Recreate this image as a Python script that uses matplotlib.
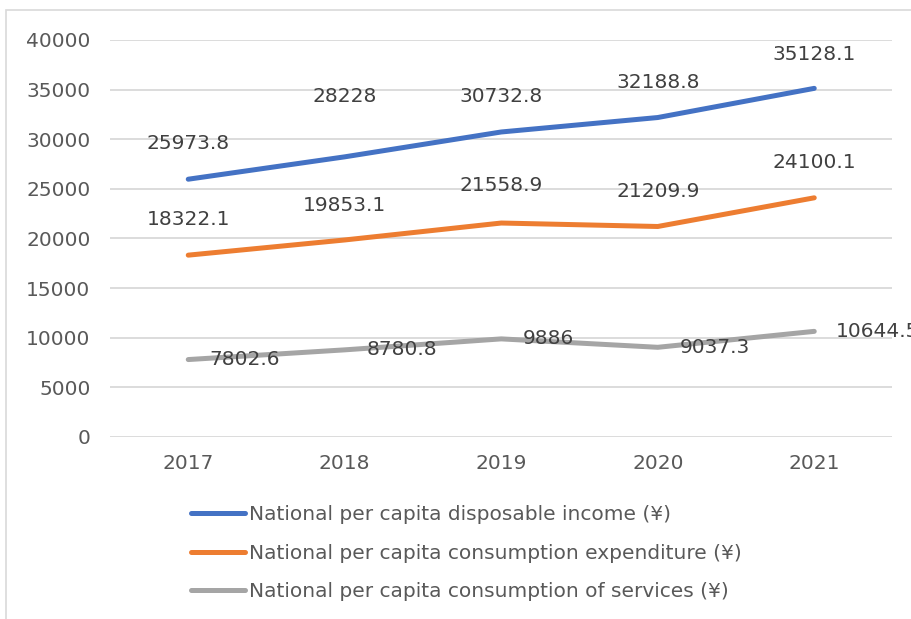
import matplotlib
matplotlib.use("Agg")
import matplotlib.pyplot as plt
from matplotlib.patches import Rectangle

years = ["2017", "2018", "2019", "2020", "2021"]
income = [25973.8, 28228, 30732.8, 32188.8, 35128.1]
expenditure = [18322.1, 19853.1, 21558.9, 21209.9, 24100.1]
services = [7802.6, 8780.8, 9886, 9037.3, 10644.5]
labels = ["National per capita disposable income (¥)",
          "National per capita consumption expenditure (¥)",
          "National per capita consumption of services (¥)"]
y_ticks = [0, 5000, 10000, 15000, 20000, 25000, 30000, 35000, 40000]

colors = ["#4472C4", "#ED7D31", "#A5A5A5"]
plt.rcParams['font.family'] = ['DejaVu Sans']
FS = 14.5

fig = plt.figure(figsize=(9.12, 6.19), dpi=100)
fig.patches.append(Rectangle((6/912, -0.1), 1.2, 1 - 10/619 + 0.1, transform=fig.transFigure,
                             fill=False, edgecolor="#D9D9D9", linewidth=1.2))
ax = fig.add_axes([110/912, 182/619, 782.5/912, 397/619])
x = list(range(len(years)))
series = [income, expenditure, services]
for vals, c, lab in zip(series, colors, labels):
    ax.plot(x, vals, color=c, linewidth=3.6, solid_capstyle='round', label=lab, zorder=3)

# data labels
above_offsets = [[25.5, 43.5, 25.5, 25.5, 24.5], [25.5, 24.5, 27, 25, 25.5]]
for vals, offs in zip(series[:2], above_offsets):
    for xi, v, o in zip(x, vals, offs):
        ax.annotate(f"{v:g}", (xi, v), xytext=(0, o), textcoords='offset points',
                    ha='center', va='center', fontsize=FS, color='#404040', zorder=4)
for xi, v in zip(x, services):
    ax.annotate(f"{v:g}", (xi, v), xytext=(15.5, 0), textcoords='offset points',
                ha='left', va='center', fontsize=FS, color='#404040', zorder=4,
                annotation_clip=False)

ax.set_xlim(-0.5, 4.5)
ax.set_ylim(0, 40000)
ax.set_yticks(y_ticks)
ax.set_yticklabels([str(t) for t in y_ticks])
ax.set_xticks(x)
ax.set_xticklabels(years)
ax.grid(axis='y', color='#D9D9D9', linewidth=1.3, zorder=0)
ax.set_axisbelow(True)
for s in ax.spines.values():
    s.set_visible(False)
ax.tick_params(axis='both', length=0, labelsize=FS, labelcolor='#595959')
ax.tick_params(axis='y', pad=14)
ax.tick_params(axis='x', pad=12)

fig.legend(loc='upper left', bbox_to_anchor=(191/912, 1 - 505/619), frameon=False,
           fontsize=FS, handlelength=2.7, handletextpad=0.2, labelspacing=0.98,
           borderpad=0, borderaxespad=0, labelcolor='#595959')

fig.savefig("out.png", dpi=100)
